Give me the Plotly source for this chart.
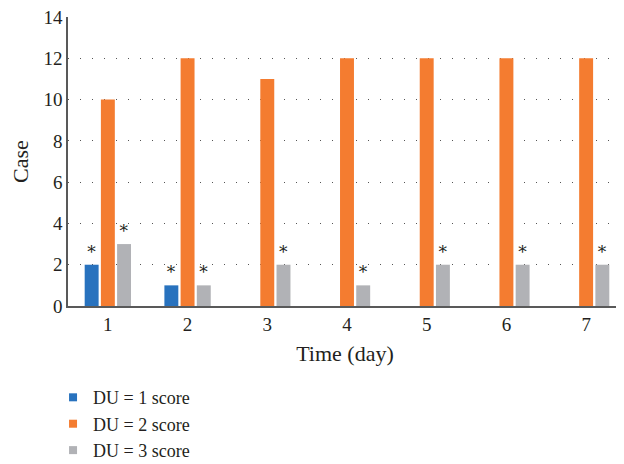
import plotly.graph_objects as go

days = ["1", "2", "3", "4", "5", "6", "7"]
du1 = [2, 1, 0, 0, 0, 0, 0]
du2 = [10, 12, 11, 12, 12, 12, 12]
du3 = [3, 1, 2, 1, 2, 2, 2]
du1_mark = ["*", "*", "", "", "", "", ""]
du2_mark = ["", "", "", "", "", "", ""]
du3_mark = ["*", "*", "*", "*", "*", "*", "*"]
names = ["DU = 1 score", "DU = 2 score", "DU = 3 score"]
colors = ["#2872BE", "#F47C30", "#B1B2B6"]

FONT = "Liberation Serif"
fig = go.Figure()
for i, (vals, marks) in enumerate([(du1, du1_mark), (du2, du2_mark), (du3, du3_mark)]):
    fig.add_trace(go.Bar(
        x=days, y=vals, name=names[i], marker=dict(color=colors[i], line=dict(width=0)),
        text=marks, textposition="outside", constraintext="none", cliponaxis=False,
        textfont=dict(family="DejaVu Serif", size=17, color="#231F20"),
        showlegend=False,
    ))
# legend-only entries (small square swatches) on a hidden overlay axis
for i in range(3):
    fig.add_trace(go.Scatter(
        x=[0], y=[0], mode="markers", name=names[i],
        marker=dict(symbol="square", size=8, color=colors[i], opacity=1),
        xaxis="x2", yaxis="y2", legendgroup=str(i), showlegend=True, hoverinfo="skip",
    ))

fig.update_layout(
    width=616, height=456,
    margin=dict(l=60, r=2, t=9, b=158, autoexpand=False),
    paper_bgcolor="white", plot_bgcolor="white",
    font=dict(family=FONT, size=18, color="#231F20"),
    barmode="group", bargap=0.39, bargroupgap=0.14,
    showlegend=True,
    legend=dict(x=-0.027, xanchor="left", y=-0.253, yanchor="top",
                orientation="v", traceorder="grouped", tracegroupgap=0,
                font=dict(family=FONT, size=18, color="#231F20"), itemwidth=30),
    xaxis=dict(range=[-0.5, 6.45], showline=True, linecolor="#595959", linewidth=1.5,
               ticks="", showgrid=False, title=dict(text="Time (day)", standoff=12),
               tickfont=dict(size=19)),
    yaxis=dict(range=[0, 14], dtick=2, showline=True, linecolor="#595959", linewidth=1.5,
               ticks="", showgrid=True, gridcolor="#555555", gridwidth=1,
               griddash="1px,11px", zeroline=False, ticklabeloverflow="allow",
               title=dict(text="Case", standoff=16), tickfont=dict(size=19)),
    xaxis2=dict(overlaying="x", visible=False, range=[10, 11]),
    yaxis2=dict(overlaying="y", visible=False, range=[10, 11]),
)
fig.write_html("out.html")
